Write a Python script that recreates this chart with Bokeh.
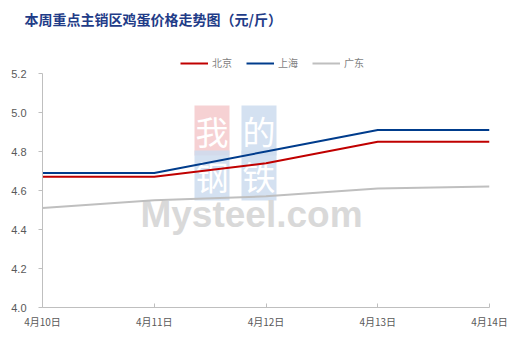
from bokeh.plotting import figure
from bokeh.models import Label, Legend, LegendItem, FixedTicker
from bokeh.embed import file_html
from bokeh.resources import INLINE

# Weekly egg prices in the main consuming regions (yuan / jin)
dates = ["4月10日", "4月11日", "4月12日", "4月13日", "4月14日"]
beijing = [4.67, 4.67, 4.74, 4.85, 4.85]
shanghai = [4.69, 4.69, 4.80, 4.91, 4.91]
guangdong = [4.51, 4.55, 4.57, 4.61, 4.62]
y_ticks = [4.0, 4.2, 4.4, 4.6, 4.8, 5.0, 5.2]

FONT = "Noto Sans CJK SC"
xs = list(range(len(dates)))

# pixel layout: the frame starts below the title strip; the value axis
# itself only spans 4.0 .. 5.2
W, H = 522, 344
FL, FR, FT, FB = 42, 489, 30, 307
Y_TOP_PX = 73
y_lo, y_hi = y_ticks[0], y_ticks[-1]
y_end = y_lo + (y_hi - y_lo) * (FB - FT) / (FB - Y_TOP_PX)

p = figure(width=W, height=H, output_backend="svg", toolbar_location=None,
           x_range=(0, len(dates) - 1), y_range=(y_lo, y_end),
           min_border_left=FL, min_border_right=W - FR,
           min_border_top=FT, min_border_bottom=H - FB)
p.outline_line_color = None
p.xgrid.grid_line_color = None
p.ygrid.grid_line_color = None
p.background_fill_color = "white"
p.border_fill_color = "white"

# title
p.title.text = "本周重点主销区鸡蛋价格走势图（元/斤）"
p.title.align = "left"
p.title.offset = 24 - FL
p.title.text_font = FONT
p.title.text_font_style = "bold"
p.title.text_font_size = "14px"
p.title.text_color = "#1F3C88"
p.title.standoff = 3


def sx(px):
    return px - FL


def sy(py):
    return FB - py


# watermark (drawn beneath the series)
wm_boxes = [("我", 211.5, 130, "#f5c9cb"), ("的", 258.5, 130, "#ccdcee"),
            ("钢", 211.5, 175, "#ccdcee"), ("铁", 258.5, 175, "#ccdcee")]
for ch, cx, cy, col in wm_boxes:
    p.add_layout(Label(x=sx(cx), y=sy(cy), x_units="screen", y_units="screen",
                       text=ch, text_font=FONT, text_font_size="33px", text_color="white",
                       text_align="center", text_baseline="middle",
                       background_fill_color=col, background_fill_alpha=0.85,
                       padding=1, level="underlay"))
p.add_layout(Label(x=sx(251), y=sy(214), x_units="screen", y_units="screen",
                   text="Mysteel.com", text_font="Liberation Sans", text_font_style="bold",
                   text_font_size="37px", text_color="#d9d9d9",
                   text_align="center", text_baseline="middle", level="underlay"))

r_bj = p.line(xs, beijing, line_color="#C00000", line_width=2)
r_sh = p.line(xs, shanghai, line_color="#003C8C", line_width=2)
r_gd = p.line(xs, guangdong, line_color="#BFBFBF", line_width=2)

# axes
p.xaxis.ticker = FixedTicker(ticks=xs)
p.xaxis.major_label_overrides = {i: d for i, d in enumerate(dates)}
p.xaxis.major_tick_in = 4
p.xaxis.major_tick_out = 0
p.xaxis.minor_tick_line_color = None
p.xaxis.axis_line_color = "#BFBFBF"
p.xaxis.major_tick_line_color = "#BFBFBF"
p.xaxis.major_label_text_font = FONT
p.xaxis.major_label_text_font_size = "10px"
p.xaxis.major_label_text_color = "#595959"
p.xaxis.major_label_standoff = 6

p.yaxis.bounds = (y_lo, y_hi)
p.yaxis.ticker = FixedTicker(ticks=y_ticks)
p.yaxis.major_label_overrides = {t: f"{t:.1f}" for t in y_ticks}
p.yaxis.major_tick_in = 0
p.yaxis.major_tick_out = 4
p.yaxis.minor_tick_line_color = None
p.yaxis.axis_line_color = "#BFBFBF"
p.yaxis.major_tick_line_color = "#BFBFBF"
p.yaxis.major_label_text_font = "Liberation Sans"
p.yaxis.major_label_text_font_size = "11px"
p.yaxis.major_label_text_color = "#595959"
p.yaxis.major_label_standoff = 12

legend = Legend(items=[LegendItem(label="北京", renderers=[r_bj]),
                       LegendItem(label="上海", renderers=[r_sh]),
                       LegendItem(label="广东", renderers=[r_gd])],
                orientation="horizontal", location=(sx(180), sy(70)),
                glyph_width=28, glyph_height=10, label_standoff=4, spacing=14,
                label_text_font=FONT, label_text_font_size="10px",
                label_text_color="#7F7F7F", border_line_color=None,
                background_fill_alpha=0, padding=0, margin=0)
p.add_layout(legend)

open("out.html", "w").write(file_html(p, INLINE))
